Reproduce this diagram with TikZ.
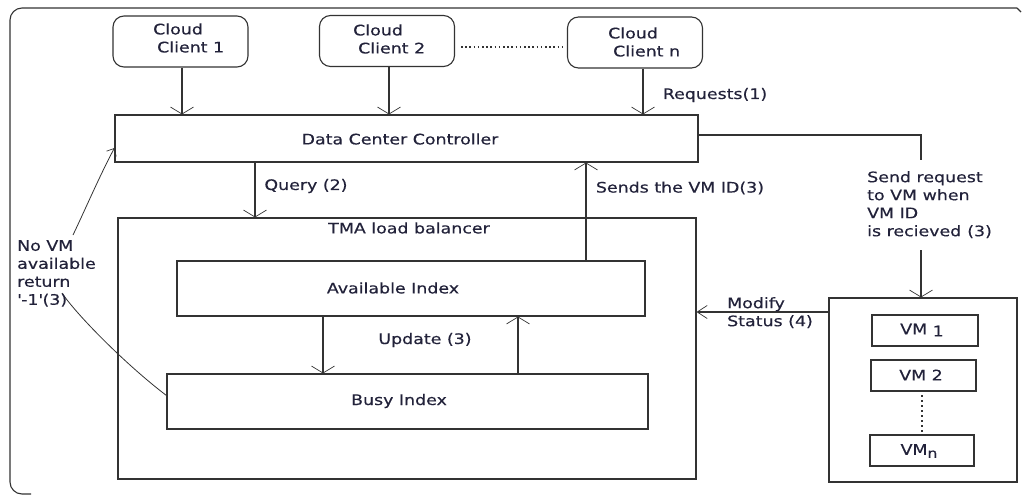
\documentclass[tikz,border=0pt]{standalone}
\usepackage{fontspec}
\setmainfont{DejaVu Sans}[FakeStretch=1.2, FakeBold=0.4]
\usetikzlibrary{arrows.meta}

\definecolor{linegray}{HTML}{333333}
\definecolor{txtcol}{HTML}{22223A}

\tikzset{
  line/.style={draw=linegray, line width=1.1pt},
  box/.style={line, rectangle, inner sep=0pt},
  cloudbox/.style={box, rounded corners=11pt, minimum width=135pt, minimum height=51pt},
  arr/.style={line, -{Straight Barb[length=7pt,width=23pt,line width=0.7pt]}},
  arrsmall/.style={line, line width=0.8pt, -{Straight Barb[length=6pt,width=11pt,line width=0.7pt]}},
  arrmid/.style={line, -{Straight Barb[length=10pt,width=13pt,line width=0.7pt]}},
  lbl/.style={text=txtcol, inner sep=0pt, font=\fontsize{14.5}{18}\selectfont, align=left},
}

\begin{document}
\begin{tikzpicture}[x=1pt, y=-1pt]
\useasboundingbox (0,0) rectangle (1022,495);

% outer frame, open on the right
\draw[line, rounded corners=12pt] (1017,8) -- (10,8) -- (10,494) -- (31,494);
\draw[line] (1017,8) -- (1021,12);

% cloud clients
\node[cloudbox] (c1) at (180.5,41.5) {};
\node[cloudbox] (c2) at (387,41)   {};
\node[cloudbox] (cn) at (635,42.5) {};
\node[lbl, anchor=west] (t1) at (153,38) {Cloud\\\hspace*{4pt}Client 1};
\node[lbl, anchor=west] (t2) at (353,39) {Cloud\\\hspace*{5pt}Client 2};
\node[lbl, anchor=west] (tn) at (608,42) {Cloud\\\hspace*{5pt}Client n};
\coordinate (dl1) at (461,47);
\coordinate (dl2) at (565,47);
\draw[draw=linegray, line width=1.6pt, dash pattern=on 1.6pt off 2.6pt] (dl1) -- (dl2);

% data center controller
\node[box, minimum width=583pt, minimum height=47pt] (dcc) at (406.5,138.5) {};
\node[lbl] (dcct) at (400,139) {Data Center Controller};

\draw[arr] ([xshift=1.5pt]c1.south) -- ([xshift=1.5pt]c1.south |- dcc.north);
\draw[arr] ([xshift=2pt]c2.south) -- ([xshift=2pt]c2.south |- dcc.north);
\draw[arr] ([xshift=8pt]cn.south) -- ([xshift=8pt]cn.south |- dcc.north);
\node[lbl] (req) at (715,95) {Requests(1)};

% TMA load balancer
\node[box, minimum width=578pt, minimum height=261pt] (tma) at (407,348.5) {};
\node[lbl] (tmat) at (409,228) {TMA load balancer};
\node[box, minimum width=468pt, minimum height=55pt] (avail) at (411,288.5) {};
\node[lbl] (availt) at (393,288) {Available Index};
\node[box, minimum width=481pt, minimum height=55pt] (busy) at (407.5,401.5) {};
\node[lbl] (busyt) at (399,401) {Busy Index};

% query and reply
\coordinate (q) at (255,162);
\draw[arr] (q) -- (q |- tma.north);
\node[lbl] (qt) at (306,186) {Query (2)};
\coordinate (s) at (586,261);
\draw[arr] (s) -- (s |- dcc.south);
\node[lbl] (st) at (680,188) {Sends the VM ID(3)};

% update between the indexes
\coordinate (ud) at (323,316);
\coordinate (uu) at (518,374);
\draw[arr] (ud) -- (ud |- busy.north);
\draw[arr] (uu) -- (uu |- avail.south);
\node[lbl] (ut) at (425,340) {Update (3)};

% VM pool
\node[box, minimum width=188pt, minimum height=184pt] (vmbox) at (923,390) {};
\node[box, minimum width=106pt, minimum height=31pt] (vm1) at (925,330.5) {};
\node[box, minimum width=105pt, minimum height=31pt] (vm2) at (923.5,375.5) {};
\node[box, minimum width=104pt, minimum height=31pt] (vmn) at (922,450.5) {};
\node[lbl] (vm1t) at (922,330) {VM \raisebox{-2pt}{1}};
\node[lbl] (vm2t) at (921,375) {VM 2};
\node[lbl] (vmnt) at (919,451) {VM\raisebox{-3pt}{\fontsize{13}{13}\selectfont n}};
\coordinate (vd1) at (922,395);
\coordinate (vd2) at (922,433);
\draw[draw=linegray, line width=1.6pt, dash pattern=on 2pt off 3pt] (vd1) -- (vd2);

% request forwarded to the VMs
\coordinate (sr1) at (921,160);
\coordinate (sr2) at (921,250);
\draw[line] ([yshift=3.5pt]dcc.east) -| (sr1);
\draw[arr] (sr2) -- (sr2 |- vmbox.north);
\node[lbl, anchor=north west] (srt) at (867,171) {Send request\\to VM when\\VM ID\\is recieved\hspace{6pt}(3)};

% status update back to the balancer
\coordinate (ms) at (829,312);
\draw[arrmid] (ms) -- (ms -| tma.east);
\node[lbl, anchor=north west] (mst) at (727,297) {Modify\\Status (4)};

% no VM available
\coordinate (nv1) at (62,293);
\coordinate (nv2) at (73,235);
\draw[line, line width=0.8pt] ([yshift=6pt]busy.west) .. controls (125,364) and (76,314) .. (nv1);
\draw[arrsmall] (nv2) .. controls (85,210) and (100,175) .. ([yshift=-9.5pt]dcc.west);
\node[lbl, anchor=north west] (nvt) at (17,240) {No VM\\available\\return\\\textquotesingle-1\textquotesingle(3)};
\end{tikzpicture}
\end{document}
